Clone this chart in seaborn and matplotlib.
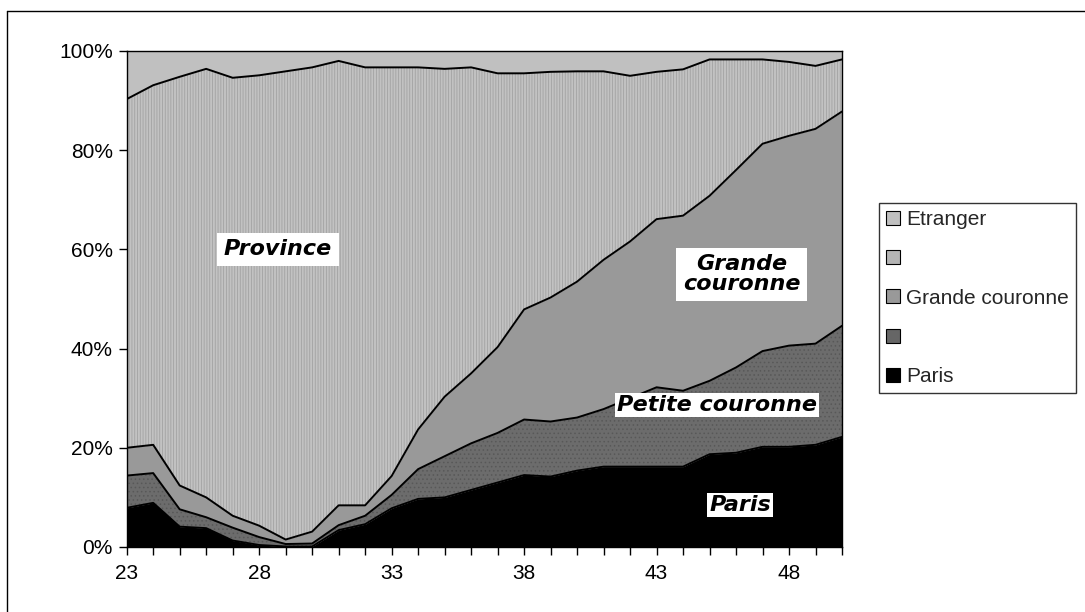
import matplotlib
matplotlib.use("Agg")
import matplotlib.pyplot as plt
from matplotlib.patches import Patch
from matplotlib.lines import Line2D
import pandas as pd
import seaborn as sns

# Année (19xx) et part de chaque origine, en %
years = list(range(23, 51))
paris = [7.9, 8.9, 4.1, 3.8, 1.3, 0.4, 0.1, 0.1, 3.4, 4.6, 7.8, 9.7, 10.0, 11.5,
         13.0, 14.5, 14.2, 15.4, 16.2, 16.2, 16.2, 16.2, 18.7, 19.0, 20.2, 20.2, 20.6, 22.2]
petite_couronne = [6.5, 6.0, 3.5, 2.2, 2.6, 1.6, 0.5, 0.6, 1.0, 1.7, 2.7, 6.0, 8.3, 9.4,
                   10.0, 11.2, 11.1, 10.7, 11.6, 13.8, 16.0, 15.3, 14.8, 17.2, 19.3, 20.4, 20.4, 22.4]
grande_couronne = [5.6, 5.7, 4.8, 4.0, 2.4, 2.3, 0.9, 2.4, 4.0, 2.1, 3.8, 8.0, 12.0, 14.1,
                   17.3, 22.2, 25.0, 27.4, 30.1, 31.6, 33.9, 35.3, 37.3, 39.8, 41.8, 42.3, 43.3, 43.2]
province = [70.3, 72.5, 82.4, 86.4, 88.3, 90.8, 94.4, 93.6, 89.6, 88.3, 82.4, 73.0, 66.1, 61.7,
            55.2, 47.6, 45.5, 42.4, 38.0, 33.4, 29.7, 29.5, 27.5, 22.3, 17.0, 14.9, 12.7, 10.5]
etranger = [9.7, 6.9, 5.2, 3.6, 5.4, 4.9, 4.1, 3.3, 2.0, 3.3, 3.3, 3.3, 3.6, 3.3,
            4.5, 4.5, 4.2, 4.1, 4.1, 5.0, 4.2, 3.7, 1.7, 1.7, 1.7, 2.2, 3.0, 1.7]

series_names = ["Paris", "Petite couronne", "Grande couronne", "Province", "Etranger"]
legend_labels = ["Etranger", "", "Grande couronne", "", "Paris"]
y_ticks = [0, 20, 40, 60, 80, 100]
y_tick_labels = ["0%", "20%", "40%", "60%", "80%", "100%"]
x_labelled = [23, 28, 33, 38, 43, 48]

sns.set_theme(style="white")
plt.rcParams["font.family"] = ["Liberation Sans", "DejaVu Sans"]
plt.rcParams["hatch.linewidth"] = 0.6

df = pd.DataFrame({
    "Paris": paris,
    "Petite couronne": petite_couronne,
    "Grande couronne": grande_couronne,
    "Province": province,
    "Etranger": etranger,
}, index=years)
shares = df.div(df.sum(axis=1), axis=0) * 100
top = shares.cumsum(axis=1)
bottom = top.shift(1, axis=1).fillna(0)

styles = {
    "Paris": dict(facecolor="#000000", edgecolor="#000000", hatch=None),
    "Petite couronne": dict(facecolor="#6c6c6c", edgecolor="#585858", hatch="...."),
    "Grande couronne": dict(facecolor="#999999", edgecolor="#999999", hatch=None),
    "Province": dict(facecolor="#c2c2c2", edgecolor="#a2a2a2", hatch="||||||"),
    "Etranger": dict(facecolor="#c0c0c0", edgecolor="#c0c0c0", hatch=None),
}

fig = plt.figure(figsize=(10.85, 6.12), dpi=100)
W, H = 1085, 612
ax = fig.add_axes([126.7 / W, 1 - 547 / H, (842 - 126.7) / W, (547 - 51) / H])
ax.set_facecolor("white")

for name in series_names:
    st = styles[name]
    ax.fill_between(years, bottom[name], top[name], facecolor=st["facecolor"],
                    edgecolor=st["edgecolor"], hatch=st["hatch"], linewidth=0, zorder=1)

for name in series_names:
    sns.lineplot(x=years, y=top[name].values, color="black", linewidth=1.4,
                 estimator=None, errorbar=None, legend=False, ax=ax, zorder=3)

ax.set_xlim(23, 50)
ax.set_ylim(0, 100)
ax.set_xticks(years)
ax.set_xticklabels([str(y) if y in x_labelled else "" for y in years])
ax.set_yticks(y_ticks)
ax.set_yticklabels(y_tick_labels)
ax.tick_params(axis="both", which="major", bottom=True, left=True, direction="out",
               length=6, width=1, color="black", labelsize=15, labelcolor="black")
ax.tick_params(axis="x", pad=6)
ax.tick_params(axis="y", pad=4)
ax.set_xlabel("")
ax.set_ylabel("")
for sp in ax.spines.values():
    sp.set_visible(True)
    sp.set_color("black")
    sp.set_linewidth(1.0)
    sp.set_zorder(4)

label_font = dict(family="DejaVu Sans", weight="bold", style="italic", size=16, color="black")
ax.text(28.71, 60.0, "Province", ha="center", va="center", zorder=5,
        bbox=dict(boxstyle="square,pad=0.3", fc="white", ec="none"), **label_font)
ax.text(46.22, 55.0, "Grande\ncouronne", ha="center", va="center", linespacing=1.0, zorder=5,
        bbox=dict(boxstyle="square,pad=0.3", fc="white", ec="none"), **label_font)
ax.text(45.29, 28.6, "Petite couronne", ha="center", va="center", zorder=5,
        bbox=dict(boxstyle="square,pad=0.1", fc="white", ec="none"), **label_font)
ax.text(46.16, 8.5, "Paris", ha="center", va="center", zorder=5,
        bbox=dict(boxstyle="square,pad=0.1", fc="white", ec="none"), **label_font)

legend_order = ["Etranger", "Province", "Grande couronne", "Petite couronne", "Paris"]
legend_faces = {"Etranger": "#c0c0c0", "Province": "#b4b4b4", "Grande couronne": "#999999",
                "Petite couronne": "#666666", "Paris": "#000000"}
handles = [Patch(facecolor=legend_faces[n], edgecolor="black", linewidth=0.8) for n in legend_order]
leg = fig.legend(handles, legend_labels, loc="upper left",
                 bbox_to_anchor=(879 / W, 1 - 203 / H), frameon=True, fancybox=False,
                 edgecolor="black", fontsize=15, handlelength=0.65, handleheight=0.65,
                 handletextpad=0.3, labelspacing=0.97, borderpad=0.35, borderaxespad=0)
leg.get_frame().set_linewidth(1.0)

# Cadre extérieur (haut et gauche)
fig.add_artist(Line2D([7 / W, 1], [1 - 11 / H, 1 - 11 / H], transform=fig.transFigure,
                      color="black", linewidth=1.0))
fig.add_artist(Line2D([7 / W, 7 / W], [1 - 11 / H, 0], transform=fig.transFigure,
                      color="black", linewidth=1.0))

fig.savefig("out.png", dpi=100, facecolor="white")
